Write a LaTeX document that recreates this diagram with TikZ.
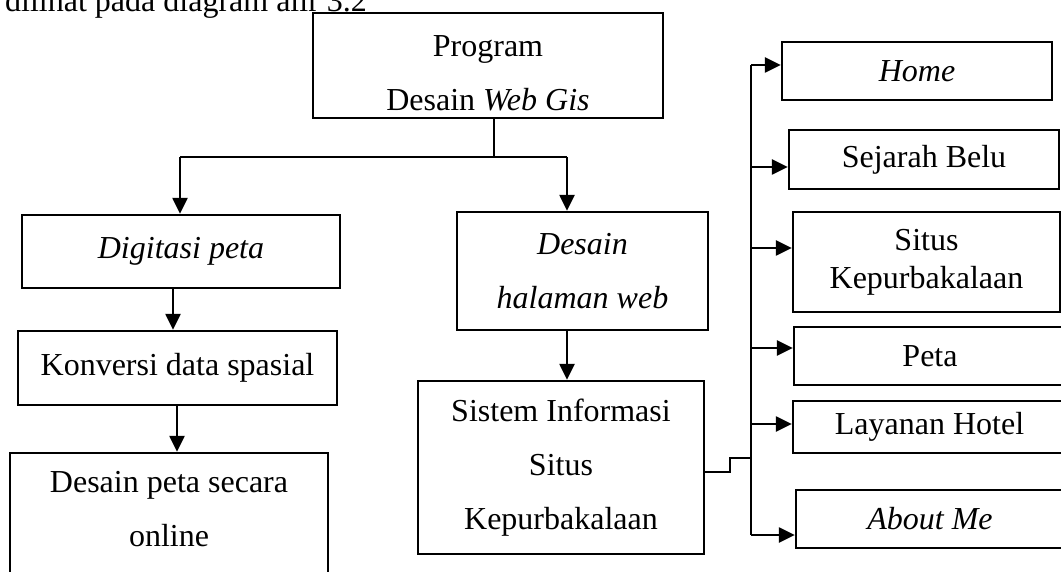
\documentclass[tikz,border=0pt]{standalone}
\usepackage{fontspec}
\setmainfont{Liberation Serif}
\usetikzlibrary{arrows.meta}
\begin{document}
\begin{tikzpicture}[x=1pt,y=-1pt,
  box/.style={draw, line width=2.3pt, inner sep=0pt, align=center, font=\fontsize{32}{54}\selectfont},
  conn/.style={line width=2.3pt},
  arr/.style={line width=2.3pt, -{Triangle[length=16pt,width=15pt]}}]
\useasboundingbox (0,0) rectangle (1061,572);
\fill[white] (0,0) rectangle (1061,572);
\clip (0,0) rectangle (1061,572);

\node[anchor=base west, font=\fontsize{32}{38}\selectfont, inner sep=0pt] (intro) at (5,12) {dilihat pada diagram alir 3.2};

% left and middle column
\node[box, minimum width=350pt, minimum height=105pt, text height=90pt] (prog) at (488,65.5) {Program\\Desain \textit{Web Gis}};
\node[box, minimum width=318pt, minimum height=73pt] (dig) at (181,251.5) {\textit{Digitasi peta}};
\node[box, minimum width=319pt, minimum height=74pt] (konv) at (177.5,368) {Konversi data spasial};
\node[box, minimum width=318pt, minimum height=147pt, text depth=36pt] (dpeta) at (169,526.5) {Desain peta secara\\online};
\node[box, minimum width=251pt, minimum height=118pt] (dhw) at (582.5,271) {\textit{Desain}\\\textit{halaman web}};
\node[box, minimum width=286pt, minimum height=173pt] (sis) at (561,467.5) {Sistem Informasi\\Situs\\Kepurbakalaan};

% right column
\node[box, minimum width=270pt, minimum height=58pt] (home) at (917,71) {\textit{Home}};
\node[box, minimum width=270pt, minimum height=59pt] (sej) at (924,159.5) {Sejarah Belu};
\node[box, minimum width=267pt, minimum height=100pt, font=\fontsize{32}{38}\selectfont] (situs) at (926.5,262) {Situs\\Kepurbakalaan};
\node[box, minimum width=272pt, minimum height=58pt] (peta) at (930,356) {Peta};
\node[box, minimum width=273pt, minimum height=52pt] (lay) at (929.5,427) {Layanan Hotel};
\node[box, minimum width=268pt, minimum height=58pt] (about) at (930,519) {\textit{About Me}};

% top tree
\coordinate (t0) at (494,157);
\coordinate (tl) at (180,157);
\coordinate (tr) at (567,157);
\draw[conn] (prog.south -| t0) -- (t0);
\draw[conn] (tl) -- (tr);
\draw[arr] (tl) -- (tl |- dig.north);
\draw[arr] (tr) -- (tr |- dhw.north);

% left chain
\coordinate (c1) at (173,0);
\coordinate (c2) at (177,0);
\draw[arr] (dig.south -| c1) -- (konv.north -| c1);
\draw[arr] (konv.south -| c2) -- (dpeta.north -| c2);

% middle chain
\draw[arr] (dhw.south -| tr) -- (sis.north -| tr);

% bus to right column
\coordinate (j1) at (730,472);
\coordinate (j2) at (751,458);
\draw[conn] (sis.east |- j1) -- (j1) |- (j2);
\coordinate (b1) at (751,65);
\coordinate (b2) at (751,167);
\coordinate (b3) at (751,248);
\coordinate (b4) at (751,348);
\coordinate (b5) at (751,424);
\coordinate (b6) at (751,535);
\draw[conn] (b1) -- (b6);
\draw[arr] (b1) -- (b1 -| home.west);
\draw[arr] (b2) -- (b2 -| sej.west);
\draw[arr] (b3) -- (b3 -| situs.west);
\draw[arr] (b4) -- (b4 -| peta.west);
\draw[arr] (b5) -- (b5 -| lay.west);
\draw[arr] (b6) -- (b6 -| about.west);
\end{tikzpicture}
\end{document}
